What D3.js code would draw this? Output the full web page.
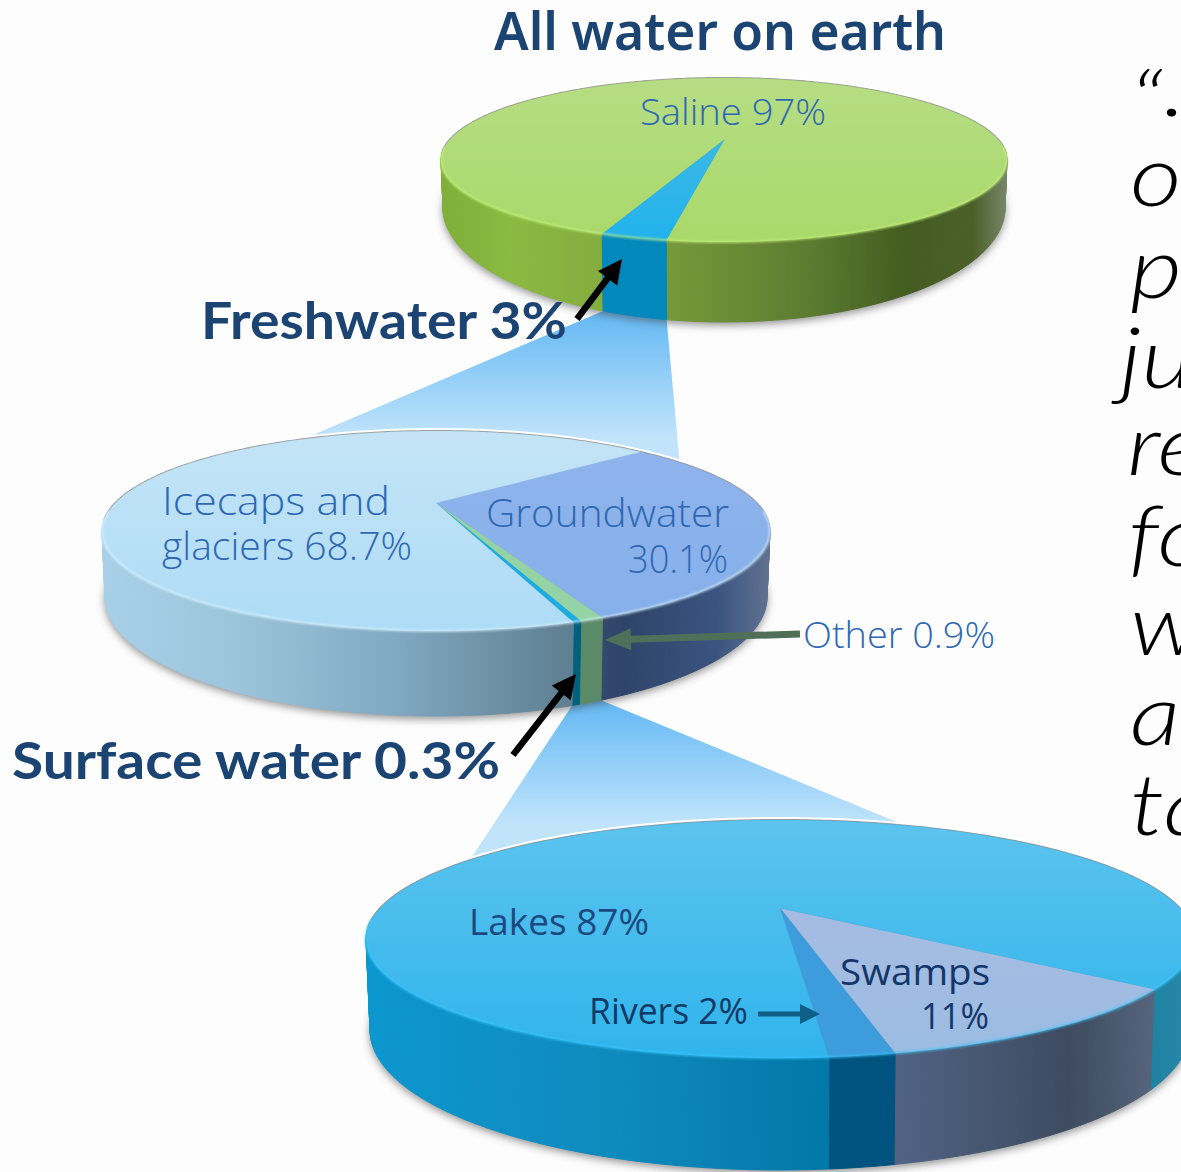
<!DOCTYPE html>
<html>
<head>
<meta charset="utf-8">
<script src="https://cdn.jsdelivr.net/npm/d3@7"></script>
<style>
  html, body { margin: 0; padding: 0; background: #fdfdfd; overflow: hidden; }
  svg { display: block; }
</style>
</head>
<body>
<svg id="chart" width="1181" height="1172"></svg>
<script>
// Shares of the world's water, one pie per level of the breakdown.
const earthNames = ["Saline", "Freshwater"];
const earthValues = [97, 3];
const freshNames = ["Groundwater", "Other", "Surface water", "Icecaps and glaciers"];
const freshValues = [30.1, 0.9, 0.3, 68.7];
const surfaceNames = ["Swamps", "Rivers", "Lakes"];
const surfaceValues = [11, 2, 87];
const quoteFragments = ["“", "…", "or", "p", "ju", "re", "fo", "w", "a", "ta"];

const svg = d3.select("#chart");
const defs = svg.append("defs");
const toRad = d => d * Math.PI / 180;

defs.append("filter").attr("id", "soft").attr("x", "-10%").attr("y", "-10%")
  .attr("width", "120%").attr("height", "120%")
  .append("feGaussianBlur").attr("stdDeviation", 4);
defs.append("filter").attr("id", "softRim").attr("x", "-5%").attr("y", "-5%")
  .attr("width", "110%").attr("height", "110%")
  .append("feGaussianBlur").attr("stdDeviation", 0.9);

// Each disc is a perspective view of a flat circle: the centre of the circle
// lands above the middle of the drawn ellipse, so near slices look wider.
function projector(cx, cy, rx, ry, tilt) {
  const gamma = rx * Math.sqrt(1 - tilt * tilt);
  return angle => {
    const u = Math.sin(angle), v = -Math.cos(angle), w = 1 - tilt * v;
    return [cx + gamma * u / w, cy + ry * (v - tilt) / w];
  };
}
function hub(cx, cy, ry, tilt) { return [cx, cy - ry * tilt]; }

const line = d3.line();
const arcPoints = (project, a0, a1) => {
  const n = Math.max(2, Math.ceil(Math.abs(a1 - a0) / toRad(1)));
  return d3.range(n + 1).map(i => project(a0 + (a1 - a0) * i / n));
};

function wallGradient(id, x0, x1, stops) {
  const g = defs.append("linearGradient").attr("id", id)
    .attr("gradientUnits", "userSpaceOnUse")
    .attr("x1", x0).attr("x2", x1).attr("y1", 0).attr("y2", 0);
  stops.forEach(([o, c]) => g.append("stop").attr("offset", o).attr("stop-color", c));
}
function faceGradient(id, c0, c1) {
  const g = defs.append("linearGradient").attr("id", id)
    .attr("x1", 0).attr("x2", 0).attr("y1", 0).attr("y2", 1);
  g.append("stop").attr("offset", 0).attr("stop-color", c0);
  g.append("stop").attr("offset", 1).attr("stop-color", c1);
}

const pieLayout = (values, start) => d3.pie().sort(null)
  .startAngle(toRad(start)).endAngle(toRad(start) + 2 * Math.PI)(values);

function drawDisc(spec) {
  const { id, values, start, cx, cy, rx, ry, tilt, base, faces, walls, rimLight } = spec;
  const top = projector(cx, cy, rx, ry, tilt);
  const bottom = projector(cx, base.cy, base.rx, base.ry, tilt);
  const arcs = pieLayout(values, start);
  const g = svg.append("g").attr("class", "disc-" + id);

  // soft contact shadow
  g.append("path")
    .attr("d", line(arcPoints(bottom, 0, 2 * Math.PI)) + "Z")
    .attr("fill", "#4a4a4a").attr("opacity", 0.62)
    .attr("transform", "translate(0,3)").attr("filter", "url(#soft)");

  // side wall, in one-degree facets tinted by a left-to-right light
  arcs.forEach((d, i) => {
    const gid = `wall-${id}-${i}`;
    wallGradient(gid, cx - rx, cx + rx, walls[i]);
    const n = Math.ceil((d.endAngle - d.startAngle) / toRad(1));
    const facets = d3.range(n).map(k => [
      d.startAngle + (d.endAngle - d.startAngle) * k / n,
      d.startAngle + (d.endAngle - d.startAngle) * (k + 1) / n
    ]);
    g.append("g").selectAll("path").data(facets).join("path")
      .attr("d", ([a, b]) => line([top(a), top(b), bottom(b), bottom(a)]) + "Z")
      .attr("fill", `url(#${gid})`).attr("stroke", `url(#${gid})`).attr("stroke-width", 1);
  });

  // halo and thin grey edge along the far side
  const far = arcPoints(top, toRad(-100), toRad(100));
  g.append("path").attr("d", line(far)).attr("fill", "none")
    .attr("stroke", "#ffffff").attr("stroke-width", 6);
  g.append("path").attr("d", line(far)).attr("fill", "none")
    .attr("stroke", "#9a9a9a").attr("stroke-width", 2);

  // top face
  arcs.forEach((d, i) => {
    const gid = `face-${id}-${i}`;
    faceGradient(gid, faces[i][0], faces[i][1]);
    const pts = [hub(cx, cy, ry, tilt)].concat(arcPoints(top, d.startAngle, d.endAngle));
    g.append("path").attr("d", line(pts) + "Z").attr("fill", `url(#${gid})`)
      .attr("stroke", faces[i][1]).attr("stroke-width", 0.3);
  });

  // lit bevel on the near edge
  g.append("path").attr("d", line(arcPoints(top, toRad(95), toRad(265))))
    .attr("fill", "none").attr("stroke", rimLight).attr("stroke-width", 2)
    .attr("opacity", 0.75).attr("filter", "url(#softRim)");

  return { top, bottom, arcs };
}

// Funnels run from a slice on one disc to the far rim of the next one.
function funnel(id, from, a0, a1, to, b0, b1, c0, c1) {
  const pts = [from.bottom(a0), ...arcPoints(to.top, b0, b1), from.bottom(a1)];
  const g = defs.append("linearGradient").attr("id", id)
    .attr("gradientUnits", "userSpaceOnUse")
    .attr("x1", 0).attr("x2", 0)
    .attr("y1", Math.min(from.bottom(a0)[1], from.bottom(a1)[1]))
    .attr("y2", Math.min(to.top(b0)[1], to.top(b1)[1]));
  g.append("stop").attr("offset", 0).attr("stop-color", c0);
  g.append("stop").attr("offset", 1).attr("stop-color", c1);
  return { pts, id };
}

function arrow(x1, y1, x2, y2, width, headLen, headWidth, color) {
  const dx = x2 - x1, dy = y2 - y1, len = Math.hypot(dx, dy);
  const ux = dx / len, uy = dy / len, nx = -uy, ny = ux;
  const bx = x2 - ux * headLen, by = y2 - uy * headLen;
  const w = width / 2, h = headWidth / 2;
  svg.append("path").attr("fill", color).attr("d", line([
    [x1 + nx * w, y1 + ny * w], [bx + nx * w, by + ny * w], [bx + nx * h, by + ny * h], [x2, y2],
    [bx - nx * h, by - ny * h], [bx - nx * w, by - ny * w], [x1 - nx * w, y1 - ny * w]
  ]) + "Z");
}

const specs = {
  earth: {
    id: "earth", values: earthValues, start: 200,
    cx: 724, cy: 160, rx: 283, ry: 82, tilt: 20 / 82,
    base: { cy: 208, rx: 281, ry: 114 },
    faces: [["#b6dd84", "#a9d96a"], ["#3bb9e6", "#22b2ec"]],
    walls: [
      [[0, "#7fae3a"], [0.12, "#8bba42"], [0.3, "#82ab3e"], [0.4, "#76993a"], [0.65, "#5c7c30"], [0.82, "#435c20"], [0.94, "#4a6028"], [1, "#78866a"]],
      [[0, "#0388bb"], [1, "#0388bb"]]
    ],
    rimLight: "#c8f57e"
  },
  fresh: {
    id: "fresh", values: freshValues, start: 49,
    cx: 436, cy: 531, rx: 334, ry: 100, tilt: 28 / 100,
    base: { cy: 597, rx: 331, ry: 119 },
    faces: [["#8fb3ec", "#86b0ea"], ["#93d3a6", "#93d3a6"], ["#1aace2", "#1aace2"], ["#c4e4f6", "#aedcf6"]],
    walls: [
      [[0, "#a4cbe2"], [0.78, "#2f4468"], [0.92, "#3b5380"], [1, "#5f7290"]],
      [[0, "#5b8a68"], [1, "#5b8a68"]],
      [[0, "#00617f"], [1, "#00617f"]],
      [[0, "#a8d0e8"], [0.2, "#9cc5dc"], [0.45, "#7fa7bf"], [0.7, "#5f7f92"], [1, "#5f7f92"]]
    ],
    rimLight: "#dff6ff"
  },
  surface: {
    id: "surface", values: surfaceValues, start: 128,
    cx: 780, cy: 939, rx: 414, ry: 119, tilt: 31 / 119,
    base: { cy: 1030, rx: 410, ry: 140 },
    faces: [["#a6bce2", "#9cbce2"], ["#3c9cdc", "#3c9cdc"], ["#5cc4ee", "#30b4ec"]],
    walls: [
      [[0, "#4f6282"], [0.65, "#4f6282"], [0.85, "#3e4b60"], [0.98, "#5c6c84"], [1, "#5c6c84"]],
      [[0, "#00527f"], [1, "#00527f"]],
      [[0, "#0c97cf"], [0.3, "#0f8abd"], [0.55, "#0278a8"], [0.9, "#137a9e"], [1, "#2a8aa8"]]
    ],
    rimLight: "#38c8ff"
  }
};

// Prepare geometry first so the funnels can sit underneath all three discs.
const earthBottom = projector(specs.earth.cx, specs.earth.base.cy, specs.earth.base.rx, specs.earth.base.ry, specs.earth.tilt);
const freshTop = projector(specs.fresh.cx, specs.fresh.cy, specs.fresh.rx, specs.fresh.ry, specs.fresh.tilt);
const freshBottom = projector(specs.fresh.cx, specs.fresh.base.cy, specs.fresh.base.rx, specs.fresh.base.ry, specs.fresh.tilt);
const surfaceTop = projector(specs.surface.cx, specs.surface.cy, specs.surface.rx, specs.surface.ry, specs.surface.tilt);

const earthArcs = pieLayout(earthValues, specs.earth.start);
const freshArcs = pieLayout(freshValues, specs.fresh.start);

const funnels = [
  funnel("funnel-fresh", { bottom: earthBottom }, earthArcs[1].endAngle, earthArcs[1].startAngle,
    { top: freshTop }, toRad(-31), toRad(60), "#63b8f4", "#c2e4fb"),
  funnel("funnel-surface", { bottom: freshBottom }, freshArcs[2].endAngle, freshArcs[1].startAngle,
    { top: surfaceTop }, toRad(-61), toRad(23), "#63b8f4", "#c2e4fb")
];
svg.append("g").selectAll("path").data(funnels).join("path")
  .attr("d", d => line(d.pts) + "Z")
  .attr("fill", d => `url(#${d.id})`);

drawDisc(specs.earth);
drawDisc(specs.fresh);
drawDisc(specs.surface);

const labelFont = "'Open Sans', sans-serif";
const headFont = "'Lato', sans-serif";
function label(text, x, y, width, size, color, family, weight) {
  svg.append("text").attr("x", x).attr("y", y).attr("font-size", size)
    .attr("font-family", family).attr("font-weight", weight).attr("fill", color)
    .attr("textLength", width).attr("lengthAdjust", "spacingAndGlyphs").text(text);
}
const pct = (v) => v + "%";

label("All water on earth", 494, 50, 452, 53, "#1c4473", "'Noto Sans', sans-serif", 600);
label(`${earthNames[1]} ${pct(earthValues[1])}`, 201, 339, 366, 52, "#1c4473", headFont, 700);
label(`${freshNames[2]} ${pct(freshValues[2])}`, 12, 779, 488, 52, "#1c4473", headFont, 700);

const blue = "#2f68b2";
label(`${earthNames[0]} ${pct(earthValues[0])}`, 640, 125, 186, 36, blue, labelFont, 300);
label("Icecaps and", 162, 515, 228, 38, blue, labelFont, 300);
label(`glaciers ${pct(freshValues[3])}`, 162, 560, 250, 38, blue, labelFont, 300);
label(freshNames[0], 486, 527, 243, 38, blue, labelFont, 300);
label(pct(freshValues[0]), 628, 573, 100, 38, blue, labelFont, 300);
label(`${freshNames[1]} ${pct(freshValues[1])}`, 803, 648, 192, 36, blue, labelFont, 300);
label(`${surfaceNames[2]} ${pct(surfaceValues[2])}`, 469, 935, 180, 36, "#1c4a80", labelFont, 400);
label(surfaceNames[0], 840, 985, 150, 37, "#14366b", labelFont, 400);
label(pct(surfaceValues[0]), 921, 1029, 68, 37, "#14366b", labelFont, 400);
label(`${surfaceNames[1]} ${pct(surfaceValues[1])}`, 589, 1024, 159, 36, "#0f3a66", labelFont, 400);

arrow(577, 319, 622, 259, 6.5, 24, 24, "#000000");
arrow(513, 755, 576, 674, 6.5, 24, 24, "#000000");
arrow(800, 634, 605, 640, 7, 26, 22, "#4f6f58");
arrow(758, 1014, 820, 1014, 5, 20, 20, "#0f5f88");

// Quotation running off the right-hand edge of the page
const quoteX = [1130, 1163, 1130, 1130, 1120, 1127, 1128, 1130, 1130, 1130];
const quoteBaselines = [132, 116, 206, 298, 388, 475, 566, 655, 745, 835];
const quote = svg.append("g").attr("font-family", "'Lato', sans-serif")
  .attr("font-style", "italic").attr("font-weight", 300).attr("font-size", 84).attr("fill", "#000");
quote.selectAll("text").data(quoteFragments).join("text")
  .attr("transform", (d, i) => `translate(${quoteX[i]},${quoteBaselines[i]}) scale(1.2,1)`)
  .text(d => d);
</script>
</body>
</html>
